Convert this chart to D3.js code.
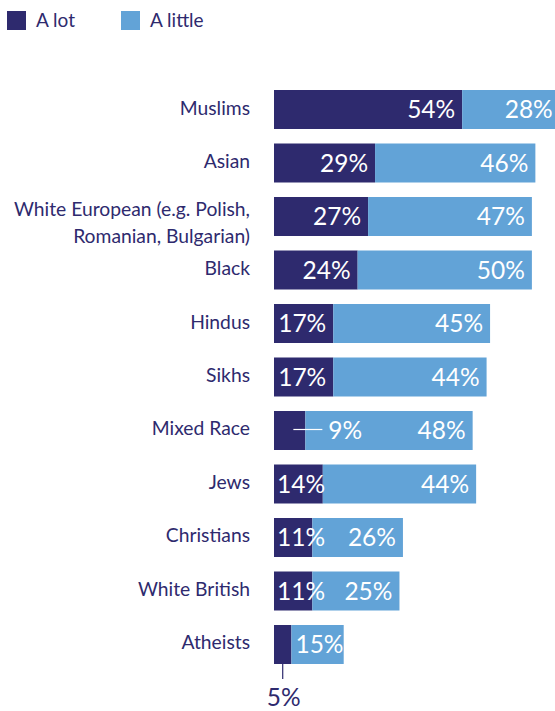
<!DOCTYPE html>
<html>
<head>
<meta charset="utf-8">
<script src="https://cdn.jsdelivr.net/npm/d3@7/dist/d3.min.js"></script>
<style>
  html, body { margin: 0; padding: 0; background: #fff; }
  svg { display: block; font-family: Lato, "Open Sans", sans-serif; }
  .cat { fill: #2e2a6e; font-size: 19.3px; }
  .val { fill: #fff; font-size: 24.5px; }
  .legend-text { fill: #2e2a6e; font-size: 19px; }
</style>
</head>
<body>
<svg id="chart" width="555" height="711"></svg>
<script>
// ---------- Data ----------
const categories = [
  "Muslims", "Asian", "White European (e.g. Polish,|Romanian, Bulgarian)", "Black",
  "Hindus", "Sikhs", "Mixed Race", "Jews", "Christians", "White British", "Atheists"
];
const aLot    = [54, 29, 27, 24, 17, 17, 9, 14, 11, 11, 5];
const aLittle = [28, 46, 47, 50, 45, 44, 48, 44, 26, 25, 15];
const seriesNames = ["A lot", "A little"];

const colors = ["#2e2a6e", "#62a3d7"];

// ---------- Layout ----------
const svg = d3.select("#chart");

const x = d3.scaleLinear().domain([0, 100]).range([274, 274 + 348.5]);
const y = d3.scaleBand()
  .domain(categories)
  .range([90, 664])
  .paddingInner(0.271)
  .paddingOuter(0);

const rows = categories.map((c, i) => ({ cat: c, lot: aLot[i], little: aLittle[i] }));

// ---------- Legend ----------
const legend = svg.append("g");
const legendX = [7, 121];
seriesNames.forEach((name, i) => {
  legend.append("rect")
    .attr("x", legendX[i]).attr("y", 11)
    .attr("width", 19).attr("height", 19)
    .attr("fill", colors[i]);
  legend.append("text")
    .attr("class", "legend-text")
    .attr("x", legendX[i] + 29).attr("y", 27)
    .text(name);
});

// ---------- Category labels ----------
const catG = svg.append("g");
rows.forEach(d => {
  const lines = d.cat.split("|");
  const cy = y(d.cat) + y.bandwidth() / 2;
  const t = catG.append("text")
    .attr("class", "cat")
    .attr("text-anchor", "end")
    .attr("x", 250);
  lines.forEach((line, k) => {
    const off = lines.length === 1 ? 5 : (k - (lines.length - 1) / 2) * 27.5 + 13;
    t.append("tspan").attr("x", 250).attr("y", cy + off).text(line);
  });
});

// ---------- Bars ----------
const barG = svg.append("g");
rows.forEach(d => {
  const top = y(d.cat), h = y.bandwidth(), cy = top + h / 2;
  const x0 = x(0), x1 = x(d.lot), x2 = x(d.lot + d.little);

  barG.append("rect").attr("x", x0).attr("y", top).attr("width", x1 - x0).attr("height", h).attr("fill", colors[0]);
  barG.append("rect").attr("x", x1).attr("y", top).attr("width", x2 - x1).attr("height", h).attr("fill", colors[1]);

  // light segment label, right aligned
  const lt = barG.append("text").attr("class", "val").attr("text-anchor", "end")
    .attr("y", cy).attr("dy", "0.36em").text(d.little + "%");
  const lw = lt.node().getComputedTextLength();
  lt.attr("x", Math.max(x2 - 7, x1 + 4 + lw));

  // dark segment label
  const dt = barG.append("text").attr("class", "val").attr("y", cy).attr("dy", "0.36em").text(d.lot + "%");
  const dw = dt.node().getComputedTextLength();

  if (d.lot >= 10) {
    dt.attr("text-anchor", "end").attr("x", Math.max(x1 - 7, x0 + 3 + dw));
  } else if ((x2 - x1) - lw > dw + 60) {
    // callout to the right, into the light segment
    barG.append("line")
      .attr("x1", x1 - 12).attr("x2", x1 + 17)
      .attr("y1", cy - 1).attr("y2", cy - 1)
      .attr("stroke", "#fff").attr("stroke-width", 1.2);
    dt.attr("text-anchor", "start").attr("x", x1 + 23);
  } else {
    // callout below the bar
    const mx = (x0 + x1) / 2;
    barG.append("line")
      .attr("x1", mx).attr("x2", mx)
      .attr("y1", top + h).attr("y2", top + h + 15)
      .attr("stroke", colors[0]).attr("stroke-width", 1.2);
    dt.attr("text-anchor", "middle").attr("x", mx + 1)
      .attr("y", top + h + 42).attr("dy", null)
      .style("fill", colors[0]);
  }
});
</script>
</body>
</html>
